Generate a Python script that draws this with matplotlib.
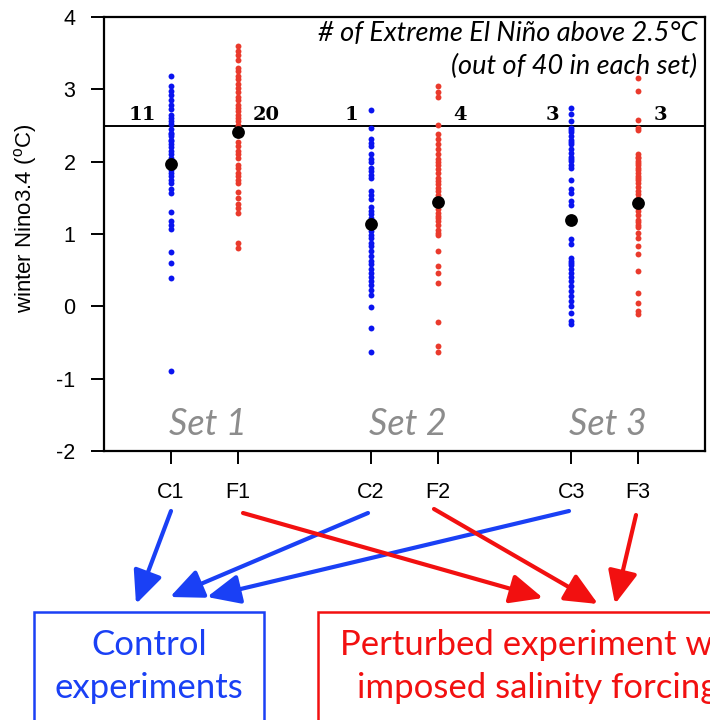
import matplotlib
matplotlib.use('Agg')
import matplotlib.pyplot as plt
from matplotlib.patches import FancyArrowPatch, Rectangle

# ---------------- data ----------------
labels = ['C1', 'F1', 'C2', 'F2', 'C3', 'F3']
positions = [1, 2, 4, 5, 7, 8]

c1 = [3.19, 3.04, 2.98, 2.92, 2.85, 2.79, 2.73, 2.65, 2.60, 2.56, 2.52,
      2.45, 2.40, 2.38, 2.35, 2.30, 2.28, 2.25, 2.20, 2.15, 2.10, 2.05, 2.02, 2.00,
      1.92, 1.88, 1.85, 1.80, 1.75, 1.70, 1.62, 1.57,
      1.31, 1.18, 1.12, 1.07, 0.75, 0.60, 0.39, -0.90]
f1 = [3.60, 3.53, 3.47, 3.41, 3.30, 3.25, 3.19, 3.14, 3.08, 3.02,
      2.96, 2.90, 2.85, 2.79, 2.74, 2.70, 2.65, 2.60, 2.56, 2.51,
      2.48, 2.45, 2.27, 2.21, 2.15, 2.10, 2.05, 1.95, 1.91, 1.85,
      1.80, 1.75, 1.70, 1.58, 1.50, 1.42, 1.36, 1.29, 0.88, 0.81]
c2 = [2.71, 2.47, 2.31, 2.26, 2.21, 2.10, 2.04, 2.00, 1.91, 1.87,
      1.82, 1.78, 1.59, 1.54, 1.48, 1.37, 1.32, 1.27, 1.22, 1.17,
      1.10, 1.04, 0.99, 0.95, 0.88, 0.83, 0.76, 0.70, 0.63, 0.58,
      0.51, 0.46, 0.40, 0.35, 0.30, 0.23, 0.15, -0.01, -0.30, -0.63]
f2 = [3.04, 2.97, 2.90, 2.51, 2.38, 2.31, 2.24, 2.17, 2.10, 2.04,
      2.00, 1.95, 1.90, 1.85, 1.78, 1.73, 1.69, 1.64, 1.59, 1.54,
      1.49, 1.46, 1.42, 1.39, 1.34, 1.29, 1.25, 1.22, 1.18, 1.12,
      1.06, 1.02, 0.98, 0.77, 0.56, 0.46, 0.32, -0.22, -0.55, -0.63]
c3 = [2.74, 2.66, 2.56, 2.47, 2.44, 2.41, 2.35, 2.30, 2.27, 2.24,
      2.18, 2.12, 2.07, 2.04, 2.01, 1.95, 1.91, 1.75, 1.62, 1.56,
      1.46, 1.40, 0.93, 0.86, 0.67, 0.63, 0.60, 0.57, 0.51, 0.46,
      0.40, 0.35, 0.28, 0.21, 0.14, 0.07, 0.00, -0.09, -0.20, -0.25]
f3 = [3.16, 2.98, 2.57, 2.47, 2.44, 2.10, 2.07, 2.05, 2.01, 1.98,
      1.95, 1.91, 1.88, 1.85, 1.80, 1.77, 1.75, 1.71, 1.65, 1.60,
      1.55, 1.50, 1.46, 1.40, 1.36, 1.32, 1.26, 1.20, 1.16, 1.13,
      1.09, 1.02, 0.95, 0.83, 0.72, 0.49, 0.19, 0.05, -0.07, -0.11]
series = [c1, f1, c2, f2, c3, f3]
means = [1.97, 2.41, 1.14, 1.44, 1.19, 1.43]
threshold = 2.5
counts = ['11', '20', '1', '4', '3', '3']
count_x = [0.58, 2.43, 3.71, 5.33, 6.72, 8.34]
set_labels = ['Set 1', 'Set 2', 'Set 3']
set_x = [1.55, 4.55, 7.55]
yticks = [-2, -1, 0, 1, 2, 3, 4]

# ---------------- figure ----------------
W, H = 710, 720
plt.rcParams['mathtext.fontset'] = 'custom'
plt.rcParams['mathtext.rm'] = 'Liberation Sans'
plt.rcParams['font.family'] = ['Liberation Sans', 'DejaVu Sans']
fig = plt.figure(figsize=(W / 100, H / 100), dpi=100)
ax = fig.add_axes([104 / W, 1 - 451 / H, 601 / W, 434 / H])

blue = '#0a14f0'
red = '#ea3a2c'
for i, (pos, vals) in enumerate(zip(positions, series)):
    col = blue if labels[i].startswith('C') else red
    ax.scatter([pos] * len(vals), vals, s=18, color=col, linewidths=0, zorder=3)
    ax.scatter([pos], [means[i]], s=85, color='black', linewidths=0, zorder=4)

ax.axhline(threshold, color='black', lw=1.4, zorder=2)

for t, x in zip(counts, count_x):
    ax.text(x, threshold + 0.08, t, ha='center', va='baseline',
            family='DejaVu Serif', fontweight='bold', fontsize=14)

ax.text(0.987, 0.963, '# of Extreme El Niño above 2.5\u00b0C', transform=ax.transAxes,
        ha='right', va='center', family='Lato', style='italic', fontsize=19.5)
ax.text(0.987, 0.887, '(out of 40 in each set)', transform=ax.transAxes,
        ha='right', va='center', family='Lato', style='italic', fontsize=19.5)

for t, x in zip(set_labels, set_x):
    ax.text(x, -1.64, t, ha='center', va='center', family='Lato', style='italic',
            fontsize=26, color='#8c8c8c')

ax.set_xlim(0, 9)
ax.set_ylim(-2, 4)
ax.set_xticks(positions)
ax.set_xticklabels(labels)
ax.set_yticks(yticks)
ax.set_yticklabels([str(v) for v in yticks])
ax.tick_params(axis='both', direction='out', length=9.5, width=1.4, labelsize=15.5)
ax.tick_params(axis='x', pad=13)
ax.tick_params(axis='y', pad=11)
for sp in ax.spines.values():
    sp.set_linewidth(1.6)

ax.set_ylabel('winter Nino3.4 ($^{\\rm o}$C)', fontsize=16)
ax.yaxis.set_label_coords(-0.108, 0.537)


def fp(x, y):
    return (x / W, 1 - y / H)


arrow_blue = '#1a40f5'
arrow_red = '#f21010'
arrows = [
    ((171, 511), (136, 604), arrow_blue),
    ((368, 513), (170, 597), arrow_blue),
    ((569, 511), (207, 597), arrow_blue),
    ((243, 513), (543, 598), arrow_red),
    ((434, 509), (598, 604), arrow_red),
    ((636, 515), (615, 604), arrow_red),
]
for a, b, col in arrows:
    fig.patches.append(FancyArrowPatch(fp(*a), fp(*b), transform=fig.transFigure,
                                       arrowstyle='-|>,head_length=2.0,head_width=0.9',
                                       mutation_scale=10, lw=3.0, color=col,
                                       shrinkA=0, shrinkB=0))

fig.patches.append(Rectangle(fp(34, 740), 230 / W, 128 / H, transform=fig.transFigure,
                             fill=False, edgecolor='#1a40f5', lw=1.8, clip_on=False))
fig.patches.append(Rectangle(fp(318, 740), 420 / W, 128 / H, transform=fig.transFigure,
                             fill=False, edgecolor='#f21010', lw=1.8, clip_on=False))

fig.text(*fp(149, 645), 'Control', ha='center', va='center', family='Lato',
         fontsize=25, color='#1a40f5')
fig.text(*fp(149, 688), 'experiments', ha='center', va='center', family='Lato',
         fontsize=25, color='#1a40f5')
fig.text(*fp(340, 645), 'Perturbed experiment with', ha='left', va='center', family='Lato',
         fontsize=25, color='#f21010')
fig.text(*fp(357, 688), 'imposed salinity forcing', ha='left', va='center', family='Lato',
         fontsize=25, color='#f21010')

fig.savefig('out.png', dpi=100)
